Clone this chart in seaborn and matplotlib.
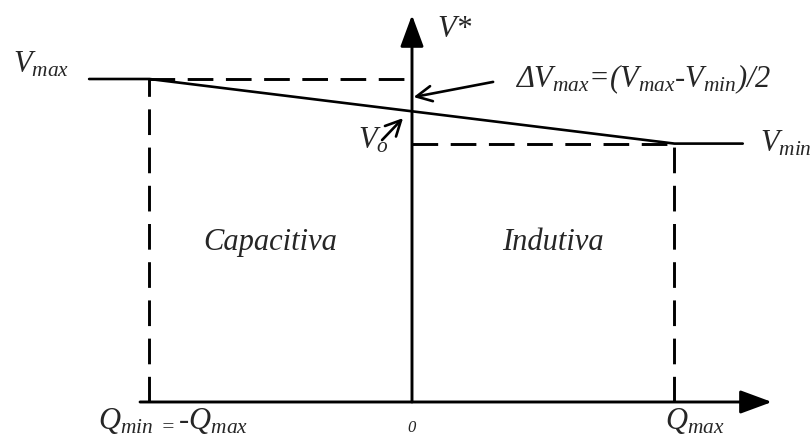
import matplotlib
matplotlib.use("Agg")
import matplotlib.pyplot as plt
import seaborn as sns
import pandas as pd

# ===== DATA =====
# V-Q droop characteristic (Q normalised to Qmax, V normalised to Vmax)
q_char = [-1.23, -1.0, 1.0, 1.26]
v_char = [1.0, 1.0, 0.8, 0.8]
q_min, q_max = -1.0, 1.0
v_max, v_min = 1.0, 0.8
v_o = (v_max + v_min) / 2

region_labels = ["Capacitiva", "Indutiva"]

df = pd.DataFrame({"Q": q_char, "V": v_char})

# ===== STYLE =====
sns.set_style("white")
plt.rcParams["font.family"] = ["Liberation Serif", "DejaVu Serif"]
plt.rcParams["font.style"] = "italic"
plt.rcParams["mathtext.fontset"] = "custom"
plt.rcParams["mathtext.it"] = "Liberation Serif:italic"
plt.rcParams["mathtext.rm"] = "Liberation Serif:italic"

fig = plt.figure(figsize=(8.11, 4.36), dpi=100)
ax = fig.add_axes([0, 0, 1, 1])
ax.set_xlim(-1.5695, 1.52)
ax.set_ylim(-0.1053, 1.2446)
ax.axis("off")

# characteristic
sns.lineplot(data=df, x="Q", y="V", ax=ax, color="black", lw=1.9,
             sort=False, estimator=None)

# dashed guides
dash = dict(color="black", lw=2.1, dashes=(8.8, 4.3))
ax.plot([q_min, 0], [v_max, v_max], **dash)
ax.plot([0, q_max], [v_min, v_min], **dash)
ax.plot([q_min, q_min], [0, v_max], **dash)
ax.plot([q_max, q_max], [0, v_min], **dash)

# axes with filled arrow heads
axis_arrow = dict(arrowstyle="-|>,head_length=1.95,head_width=0.72",
                  mutation_scale=10, color="black", lw=2.1,
                  shrinkA=0, shrinkB=0)
ax.annotate("", xy=(1.371, 0), xytext=(-1.036, 0), arrowprops=axis_arrow)
ax.annotate("", xy=(0, 1.198), xytext=(0, 0), arrowprops=axis_arrow)

# pointer arrows
ptr = dict(arrowstyle="->,head_length=1.1,head_width=0.55", mutation_scale=10,
           color="black", lw=1.9, shrinkA=0, shrinkB=0)
ax.annotate("", xy=(0.006, 0.944), xytext=(0.309, 0.991), arrowprops=ptr)
ax.annotate("", xy=(-0.034, 0.879), xytext=(-0.114, 0.811), arrowprops=ptr)

# ===== TEXT =====
fs = 22
ax.text(-1.52, 1.019, r"$V_{max}$", fontsize=fs, ha="left", va="baseline")
ax.text(0.095, 1.130, r"$V$*", fontsize=fs, ha="left", va="baseline")
ax.text(0.392, 0.975, r"Δ$V_{max}$=($V_{max}$-$V_{min}$)/2", fontsize=fs,
        ha="left", va="baseline")
ax.text(1.326, 0.774, r"$V_{min}$", fontsize=fs, ha="left", va="baseline")
ax.text(-0.206, 0.786, r"$V_o$", fontsize=fs, ha="left", va="baseline")
ax.text(-0.796, 0.471, region_labels[0], fontsize=fs, ha="left", va="baseline")
ax.text(0.343, 0.471, region_labels[1], fontsize=fs, ha="left", va="baseline")
ax.text(0, -0.093, "0", fontsize=12, ha="center", va="baseline")
ax.text(-1.196, -0.084, r"$Q_{min\ =}$-$Q_{max}$", fontsize=fs, ha="left",
        va="baseline")
ax.text(0.964, -0.084, r"$Q_{max}$", fontsize=fs, ha="left", va="baseline")

fig.savefig("out.png", dpi=100, facecolor="white")
